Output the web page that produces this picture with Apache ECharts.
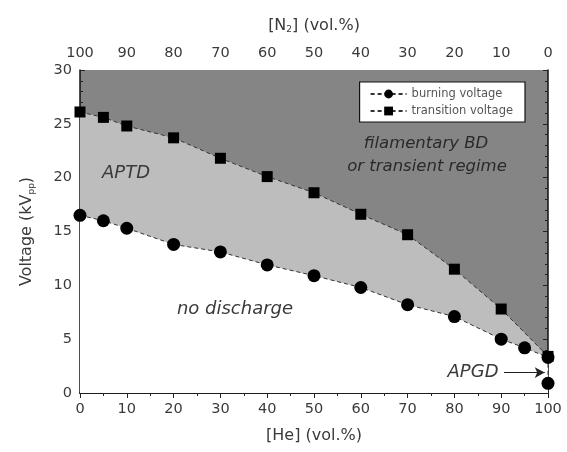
<!DOCTYPE html>
<html>
<head>
<meta charset="utf-8">
<script src="https://cdn.jsdelivr.net/npm/echarts@6/dist/echarts.min.js"></script>
<style>
  html, body { margin: 0; padding: 0; background: #fff; }
  #chart { width: 567px; height: 452px; }
</style>
</head>
<body>
<div id="chart"></div>
<script>
// He content (vol.%) and measured voltages (kV_pp)
const burningHe = [0, 5, 10, 20, 30, 40, 50, 60, 70, 80, 90, 95, 100, 100];
const burningV  = [16.5, 16.0, 15.3, 13.8, 13.1, 11.9, 10.9, 9.8, 8.2, 7.1, 5.0, 4.2, 3.3, 0.9];
const transHe   = [0, 5, 10, 20, 30, 40, 50, 60, 70, 80, 90, 100];
const transV    = [26.1, 25.6, 24.8, 23.7, 21.8, 20.1, 18.6, 16.6, 14.7, 11.5, 7.8, 3.4];
const xTicks    = [0, 100, 10];
const yTicks    = [0, 30, 5];

const FONT = '"DejaVu Sans", "Liberation Sans", sans-serif';
const INK = "#3a3a3a";
const DARK = "#858585";
const LIGHT = "#bdbdbd";

const pairs = (xs, ys) => xs.map((x, i) => [x, ys[i]]);

const xBase = {
  type: "value", min: xTicks[0], max: xTicks[1], interval: xTicks[2],
  axisLine: { show: true, lineStyle: { color: "#111", width: 1.5 } },
  axisTick: { show: true, inside: true, length: 5, lineStyle: { color: "#222" } },
  minorTick: { show: true, splitNumber: 2, length: 3, lineStyle: { color: "#222" } },
  splitLine: { show: false },
  axisLabel: { color: INK, fontSize: 14.5, fontFamily: FONT, margin: 9 },
  nameTextStyle: { color: INK, fontSize: 16, fontFamily: FONT },
  nameLocation: "middle",
};
const yBase = {
  type: "value", min: yTicks[0], max: yTicks[1], interval: yTicks[2],
  axisLine: { show: true, lineStyle: { color: "#111", width: 1.5 } },
  axisTick: { show: true, inside: true, length: 5, lineStyle: { color: "#222" } },
  minorTick: { show: true, splitNumber: 5, length: 3, lineStyle: { color: "#222" } },
  splitLine: { show: false },
  axisLabel: { color: INK, fontSize: 14.5, fontFamily: FONT, margin: 8 },
  nameLocation: "middle",
};

// 영역 라벨 (이탤릭, 가운데 정렬)
const note = (text, x, y, size, fill) => ({
  type: "text", z: 100, x: x, y: y,
  style: {
    text: text, fill: fill || INK, font: "italic " + (size || 18) + "px " + FONT,
    textAlign: "center", textVerticalAlign: "middle",
  },
});

const chart = echarts.init(document.getElementById("chart"), null, { renderer: "canvas" });

chart.setOption({
  backgroundColor: "#fff",
  animation: false,
  textStyle: { fontFamily: FONT },
  grid: { left: 80, right: 19, top: 70, bottom: 59, show: true, backgroundColor: DARK, borderWidth: 0 },
  legend: {
    right: 42, top: 82, orient: "vertical", itemGap: 5, itemWidth: 36, itemHeight: 11,
    backgroundColor: "#fff", borderColor: "#111", borderWidth: 1.2, borderRadius: 0,
    padding: [6, 12, 5, 10],
    textStyle: { color: "#555", fontSize: 11.5, fontFamily: FONT },
    data: ["burning voltage", "transition voltage"],
  },
  xAxis: [
    Object.assign({}, xBase, { position: "bottom", name: "[He] (vol.%)", nameGap: 35 }),
    Object.assign({}, xBase, {
      position: "top", inverse: true, nameGap: 36,
      name: "{t|[N}{s|2}{t|] (vol.%)}",
      nameTextStyle: {
        rich: {
          t: { color: INK, fontSize: 16, fontFamily: FONT },
          s: { color: INK, fontSize: 9, fontFamily: FONT, verticalAlign: "bottom", padding: [8, 0, 0, 0] },
        },
      },
    }),
  ],
  yAxis: [
    Object.assign({}, yBase, {
      position: "left", nameGap: 44,
      name: "{t|Voltage (kV}{s|pp}{t|)}",
      nameTextStyle: {
        rich: {
          t: { color: INK, fontSize: 16, fontFamily: FONT },
          s: { color: INK, fontSize: 9, fontFamily: FONT, padding: [10, 0, 0, 0] },
        },
      },
    }),
    Object.assign({}, yBase, { position: "right", axisLabel: { show: false } }),
  ],
  series: [
    {
      name: "transition voltage", type: "line", data: pairs(transHe, transV),
      symbol: "rect", symbolSize: 11, itemStyle: { color: "#000" },
      lineStyle: { color: "#333", width: 1, type: [4, 3] },
      areaStyle: { color: LIGHT, opacity: 1, origin: "start" },
      z: 2,
    },
    {
      name: "burning voltage", type: "line", data: pairs(burningHe, burningV),
      symbol: "circle", symbolSize: 13, itemStyle: { color: "#000" },
      lineStyle: { color: "#333", width: 1, type: [4, 3] },
      areaStyle: { color: "#fff", opacity: 1, origin: "start" },
      z: 3,
      markLine: {
        silent: true, symbol: ["none", "arrow"], symbolSize: [8, 10],
        lineStyle: { color: "#222", width: 1.2, type: "solid" },
        label: { show: false },
        data: [[{ coord: [90.6, 1.9] }, { coord: [99.3, 1.9] }]],
      },
    },
  ],
  graphic: [
    note("APTD", 126, 173),
    note("filamentary BD", 426, 144, 16.5, "#2a2a2a"),
    note("or transient regime", 427, 167, 16.5, "#2a2a2a"),
    note("no discharge", 235, 309),
    note("APGD", 473, 372),
  ],
});
</script>
</body>
</html>
